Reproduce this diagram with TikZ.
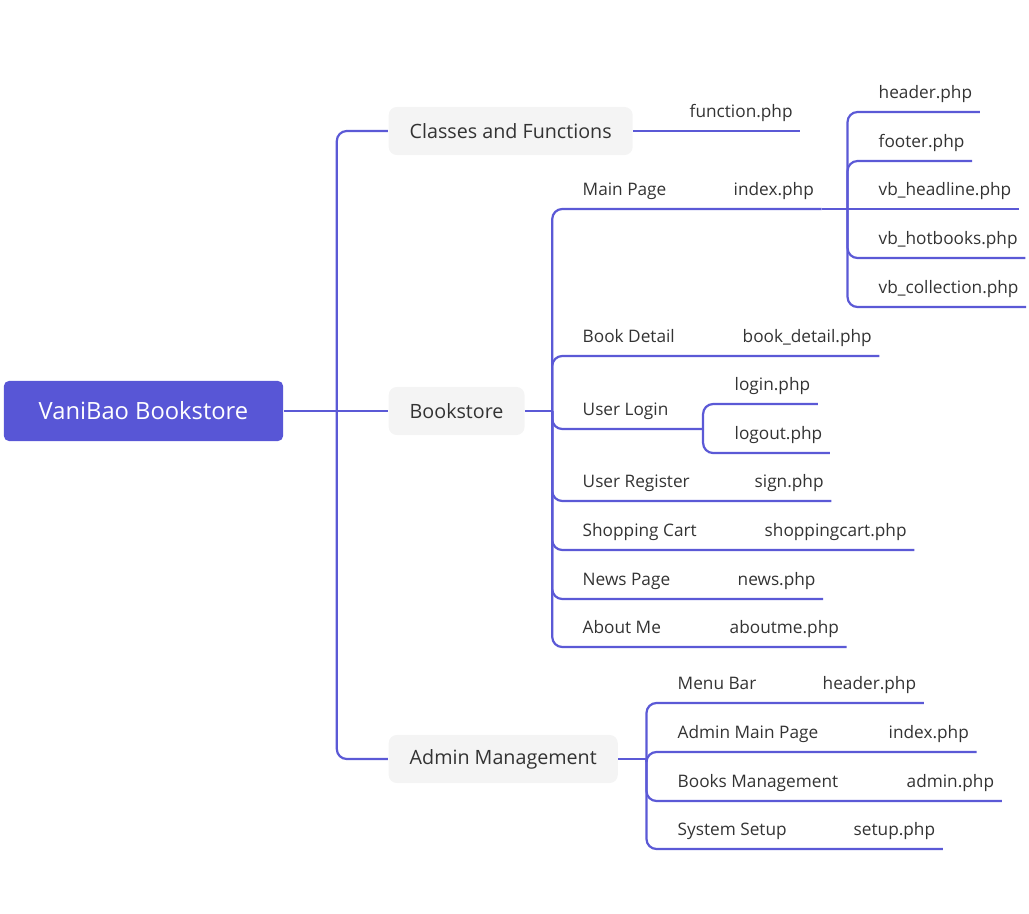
\documentclass[tikz,border=0pt]{standalone}
\usepackage{fontspec}
\setmainfont{Open Sans}
\usetikzlibrary{calc}
\definecolor{mapline}{RGB}{91,89,214}
\definecolor{rootfill}{RGB}{88,86,214}
\definecolor{topicfill}{RGB}{244,244,244}
\definecolor{topictext}{RGB}{51,51,51}

\begin{document}
\begin{tikzpicture}[
  x=0.01cm,y=-0.01cm,
  central/.style={
    fill=rootfill,
    rounded corners=0.05cm,
    minimum width=2.79cm,
    minimum height=0.6cm,
    text=white,
    font=\fontsize{6.75}{8}\selectfont
  },
  maintopic/.style={
    anchor=west,
    fill=topicfill,
    rounded corners=0.08cm,
    minimum height=0.48cm,
    inner xsep=0.21cm,
    text=topictext,
    font=\fontsize{5.6}{7}\selectfont
  },
  subtopic/.style={
    anchor=south west,
    inner xsep=0.07cm,
    inner ysep=0pt,
    text height=0.13cm,
    text depth=0.13cm,
    text=topictext,
    font=\fontsize{4.9}{6}\selectfont
  },
  branch/.style={line width=0.022cm,mapline,rounded corners=0.1cm}
]
  \useasboundingbox (0,0) rectangle (1029,914);

  % root and the three main topics
  \node[central] (root) at (143.5,411) {VaniBao Bookstore};
  \node[maintopic] (classes) at (388,131) {Classes and Functions};
  \node[maintopic] (bookstore) at (388,411) {Bookstore};
  \node[maintopic] (admin) at (388,759) {Admin Management};

  \coordinate (rootJ) at ($(root.east)+(53,0)$);
  \draw[branch] (root.east) -- (bookstore.west);
  \draw[branch] (rootJ) |- (classes.west);
  \draw[branch] (rootJ) |- (admin.west);

  % Classes and Functions
  \node[subtopic] (fn) at (682,131) {function.php};
  \draw[branch] (classes.east) -- (fn.south east);

  % Bookstore pages
  \node[subtopic] (mainpg) at (575,209) {Main Page};
  \node[subtopic] (idx) at (726,209) {index.php};
  \node[subtopic] (detail) at (575,356) {Book Detail};
  \node[subtopic] (detailf) at (735,356) {book\_detail.php};
  \node[subtopic] (login) at (575,429) {User Login};
  \node[subtopic] (loginf) at (727,404) {login.php};
  \node[subtopic] (logoutf) at (727,453) {logout.php};
  \node[subtopic] (register) at (575,501) {User Register};
  \node[subtopic] (signf) at (747,501) {sign.php};
  \node[subtopic] (cart) at (575,550) {Shopping Cart};
  \node[subtopic] (cartf) at (757,550) {shoppingcart.php};
  \node[subtopic] (news) at (575,599) {News Page};
  \node[subtopic] (newsf) at (730,599) {news.php};
  \node[subtopic] (about) at (575,647) {About Me};
  \node[subtopic] (aboutf) at (722,647) {aboutme.php};

  \coordinate (bsJ) at ($(bookstore.east)+(27,0)$);
  \draw[branch] (bookstore.east) -- (bsJ);
  \foreach \pg/\pf in {mainpg/idx,detail/detailf,register/signf,
                        cart/cartf,news/newsf,about/aboutf}{
    \draw[branch] (bsJ) |- (\pg.south east) -- (\pf.south east);
  }
  \coordinate (loginJ) at ($(login.south east)+(27,0)$);
  \draw[branch] (bsJ) |- (loginJ);
  \draw[branch] (loginJ) |- (loginf.south east);
  \draw[branch] (loginJ) |- (logoutf.south east);

  % parts of index.php
  \node[subtopic] (hdr) at (871,112) {header.php};
  \node[subtopic] (ftr) at (871,161) {footer.php};
  \node[subtopic] (headline) at (871,209) {vb\_headline.php};
  \node[subtopic] (hotbooks) at (871,258) {vb\_hotbooks.php};
  \node[subtopic] (collection) at (871,307) {vb\_collection.php};

  \coordinate (idxJ) at ($(idx.south east)+(26,0)$);
  \draw[branch] (idx.south east) -- (headline.south east);
  \foreach \part in {hdr,ftr,hotbooks,collection}{
    \draw[branch] (idxJ) |- (\part.south east);
  }

  % Admin Management
  \node[subtopic] (menubar) at (670,703) {Menu Bar};
  \node[subtopic] (menubarf) at (815,703) {header.php};
  \node[subtopic] (adminmain) at (670,752) {Admin Main Page};
  \node[subtopic] (adminmainf) at (881,752) {index.php};
  \node[subtopic] (booksmgmt) at (670,801) {Books Management};
  \node[subtopic] (booksmgmtf) at (899,801) {admin.php};
  \node[subtopic] (setup) at (670,849) {System Setup};
  \node[subtopic] (setupf) at (846,849) {setup.php};

  \coordinate (admJ) at ($(admin.east)+(28,0)$);
  \draw[branch] (admin.east) -- (admJ);
  \foreach \pg/\pf in {menubar/menubarf,adminmain/adminmainf,
                        booksmgmt/booksmgmtf,setup/setupf}{
    \draw[branch] (admJ) |- (\pg.south east) -- (\pf.south east);
  }
\end{tikzpicture}
\end{document}
